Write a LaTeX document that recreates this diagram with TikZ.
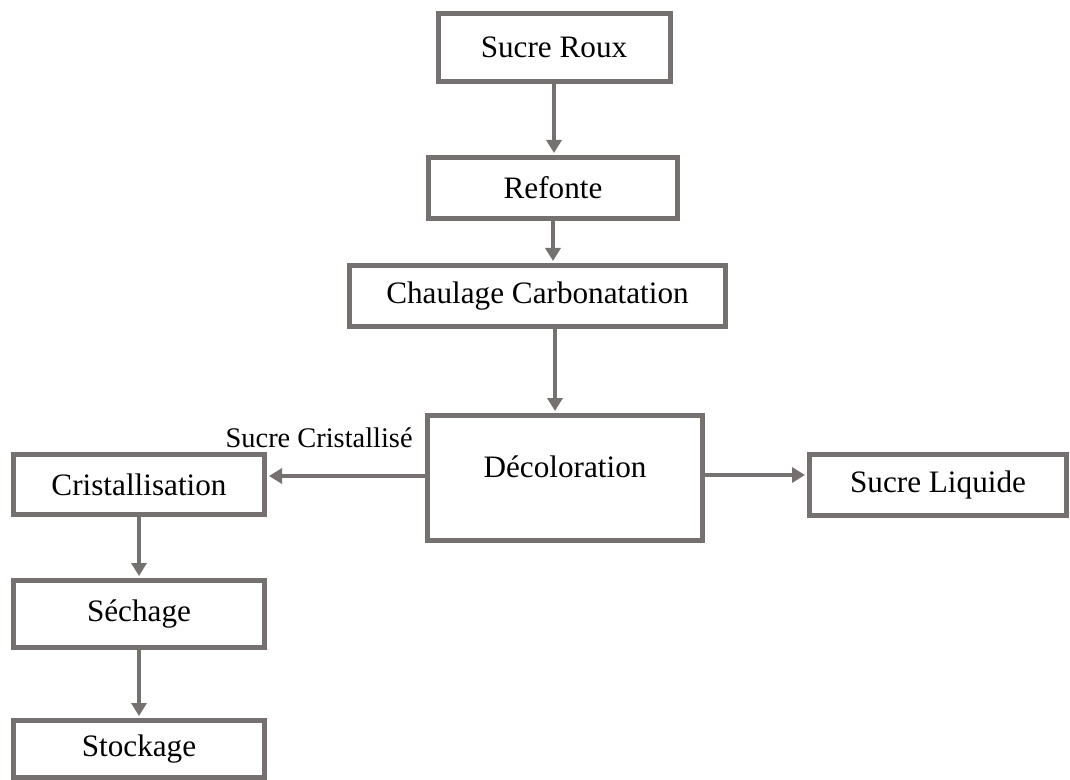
\documentclass[tikz,border=0pt]{standalone}
\usepackage{fontspec}
\setmainfont{Liberation Serif}
\usetikzlibrary{arrows.meta,calc}
\definecolor{frame}{RGB}{118,113,113}
\begin{document}
\begin{tikzpicture}[x=0.5pt,y=-0.5pt,
  stepbox/.style={draw=frame, line width=2.5pt, fill=white, inner sep=0pt,
    font=\fontsize{15.6}{18}\selectfont},
  flow/.style={draw=frame, line width=2pt,
    -{Triangle[length=6.5pt,width=7.5pt]}, shorten >=1pt},
  lbl/.style={inner sep=0pt, font=\fontsize{14.2}{17}\selectfont}]
\useasboundingbox (0,0) rectangle (1070,780);
% process boxes (sizes measured along the frame line)
\node[stepbox, minimum width=116pt, minimum height=34pt] (sr) at (554,47.5) {Sucre Roux};
\node[stepbox, minimum width=124.5pt, minimum height=30.5pt] (rf) at (553,188) {Refonte};
\node[stepbox, minimum width=188pt, minimum height=30.5pt] (cc) at (537.5,296) {Chaulage Carbonatation};
\node[stepbox, minimum width=137.5pt, minimum height=62.5pt] (dc) at (565,478) {};
\node[inner sep=0pt, font=\fontsize{15.6}{18}\selectfont] (dct) at (565,467) {Décoloration};
\node[stepbox, minimum width=125.5pt, minimum height=30pt] (cr) at (139,484.5) {Cristallisation};
\node[stepbox, minimum width=128.5pt, minimum height=30.5pt] (sl) at (938,485) {Sucre Liquide};
\node[stepbox, minimum width=125.5pt, minimum height=33.5pt] (se) at (139,614) {Séchage};
\node[stepbox, minimum width=125.5pt, minimum height=28.5pt] (st) at (139,749) {Stockage};
% outlet of the carbonatation box, right of its centre
\coordinate (ccout) at ($(cc.south)+(17.5,0)$);
% flow arrows
\draw[flow] (sr.south) -- (sr.south |- rf.north);
\draw[flow] (rf.south) -- (rf.south |- cc.north);
\draw[flow] (ccout) -- (ccout |- dc.north);
\draw[flow] ([yshift=1pt]dc.west) -- ([yshift=1pt]dc.west -| cr.east);
\draw[flow] ([yshift=1.5pt]dc.east) -- ([yshift=1.5pt]dc.east -| sl.west);
\draw[flow] (cr.south) -- (se.north);
\draw[flow] (se.south) -- (st.north);
\node[lbl, anchor=east] (sc) at (413,438) {Sucre Cristallisé};
\end{tikzpicture}
\end{document}
